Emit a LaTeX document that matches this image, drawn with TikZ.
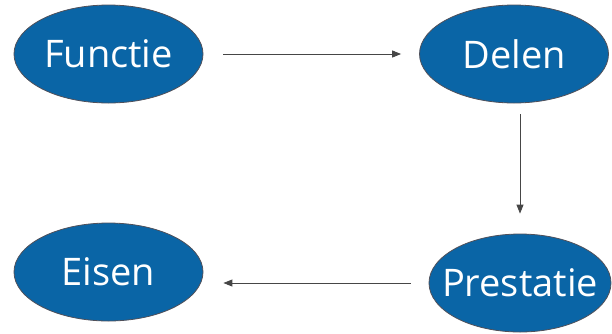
\documentclass[tikz,border=0pt]{standalone}
\usepackage{fontspec}
\setmainfont{Open Sans}
\usetikzlibrary{shapes.geometric,arrows.meta}
\definecolor{ellblue}{RGB}{10,101,166}
\definecolor{ellborder}{RGB}{80,80,90}
\definecolor{arrowgray}{RGB}{70,70,70}
\tikzset{
  oval/.style={ellipse, draw=ellborder, line width=0.8pt, fill=ellblue,
    minimum width=189pt, minimum height=98pt, inner sep=0pt,
    label={[text=white, font=\fontsize{38}{42}\selectfont, inner sep=0pt]center:#1}},
  conn/.style={draw=arrowgray, line width=0.9pt, -{Triangle[length=9pt,width=7pt]}}
}
\begin{document}
\begin{tikzpicture}[x=1pt,y=-1pt]
\useasboundingbox (0,0) rectangle (612,333);
\node[oval=Functie] (f) at (108.5,54) {};
\node[oval=Delen] (d) at (514,54) {};
\node[oval=Eisen] (e) at (108.5,272) {};
\node[oval=Prestatie, minimum width=182pt] (p) at (520,283) {};
\draw[conn, shorten <=20pt, shorten >=18pt] (f.east) -- (d.west);
\draw[conn, shorten <=11pt, shorten >=20pt] (p.north |- d.south) -- (p.north);
\draw[conn, shorten <=18pt, shorten >=20pt] (p.west) -- (p.west -| e.east);
\end{tikzpicture}
\end{document}
